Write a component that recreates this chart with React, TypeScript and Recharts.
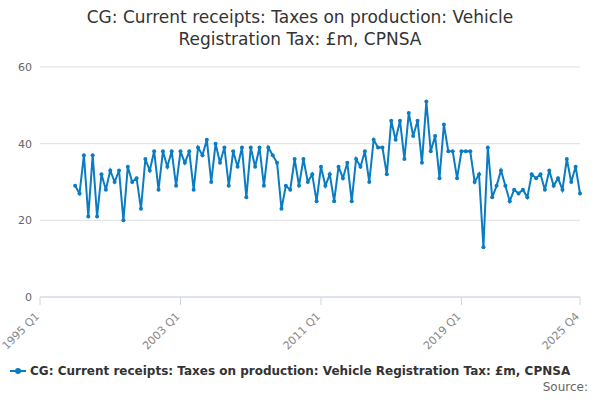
import { LineChart, Line, XAxis, YAxis, CartesianGrid } from 'recharts';

const QUARTERS: string[] = [];
for (let y = 1995; y <= 2025; y++) for (let q = 1; q <= 4; q++) QUARTERS.push(`${y} Q${q}`);

// 1995 Q1 - 1996 Q4 have no data
const VALUES: (number | null)[] = [
  null, null, null, null, null, null, null, null,
  29, 27, 37, 21, 37, 21, 32, 28, 33, 30, 33, 20, 34, 30, 31, 23, 36, 33, 38, 28,
  38, 34, 38, 29, 38, 35, 38, 28, 39, 37, 41, 30, 40, 35, 39, 29, 38, 34, 39, 26,
  39, 34, 39, 29, 39, 37, 35, 23, 29, 28, 36, 29, 36, 30, 32, 25, 34, 29, 32, 25,
  34, 31, 35, 25, 36, 34, 38, 30, 41, 39, 39, 32, 46, 41, 46, 36, 48, 42, 46, 35,
  51, 38, 42, 31, 45, 38, 38, 31, 38, 38, 38, 30, 32, 13, 39, 26, 29, 33, 29, 25,
  28, 27, 28, 26, 32, 31, 32, 28, 33, 29, 31, 28, 36, 30, 34, 27,
];

const X_TICKS = ['1995 Q1', '2003 Q1', '2011 Q1', '2019 Q1', '2025 Q4'];
const Y_TICKS = [0, 20, 40, 60];
const SERIES_NAME = 'CG: Current receipts: Taxes on production: Vehicle Registration Tax: £m, CPNSA';

const data = QUARTERS.map((q, i) => ({ q, v: VALUES[i] }));
const BLUE = '#0a7cc1';
const FONT = '"DejaVu Sans", sans-serif';

const XTick = ({ x, y, payload }: any) => (
  <text x={x} y={y + 10} textAnchor="end" fill="#888" fontSize={11} fontFamily={FONT}
    transform={`rotate(-45 ${x} ${y + 10})`}>
    {payload.value}
  </text>
);

export default function App() {
  return (
    <div style={{ position: 'absolute', left: 0, top: 0, width: 600, height: 400, background: '#fff', fontFamily: FONT }}>
      <div style={{ position: 'absolute', top: 6, left: 0, width: 600, textAlign: 'center', fontSize: 17, lineHeight: '22px', color: '#333' }}>
        CG: Current receipts: Taxes on production: Vehicle<br />Registration Tax: £m, CPNSA
      </div>
      <LineChart width={600} height={400} data={data} margin={{ top: 67, right: 20, bottom: 63, left: 5 }}>
        <CartesianGrid vertical={false} stroke="#e0e0e0" />
        <XAxis dataKey="q" ticks={X_TICKS} interval={0} tick={<XTick />} height={40}
          stroke="#ccd6eb" tickLine={{ stroke: '#ccd6eb' }} tickSize={8} />
        <YAxis domain={[0, 60]} ticks={Y_TICKS} width={35} axisLine={false} tickLine={false}
          tick={{ fill: '#666', fontSize: 11, fontFamily: FONT }} />
        <Line dataKey="v" stroke={BLUE} strokeWidth={2} isAnimationActive={false} connectNulls={false}
          dot={{ r: 2, fill: BLUE, stroke: BLUE, strokeWidth: 0 }} />
      </LineChart>
      <div style={{ position: 'absolute', top: 364, left: 10, fontSize: 12, fontWeight: 'bold', color: '#333', display: 'flex', alignItems: 'center', whiteSpace: 'nowrap' }}>
        <svg width={16} height={10} style={{ marginRight: 4 }}>
          <line x1={0} y1={5} x2={16} y2={5} stroke={BLUE} strokeWidth={2} />
          <circle cx={8} cy={5} r={3} fill={BLUE} />
        </svg>
        {SERIES_NAME}
      </div>
      <div style={{ position: 'absolute', top: 380, right: 12, fontSize: 12, color: '#666' }}>Source:</div>
    </div>
  );
}
